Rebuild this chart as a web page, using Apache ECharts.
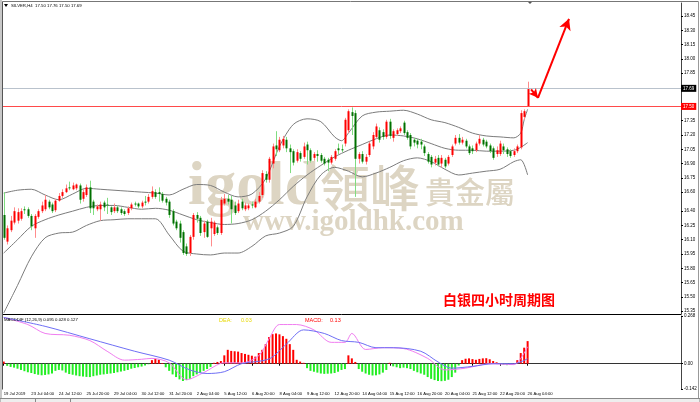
<!DOCTYPE html>
<html><head><meta charset="utf-8">
<script src="https://cdn.jsdelivr.net/npm/echarts@6/dist/echarts.min.js"></script>
<style>html,body{margin:0;padding:0;background:#fff}#c{width:700px;height:402px}</style>
</head><body><div id="c"></div>
<script>
// ---- DATA ----
// SILVER H4 candles: [open, high, low, close]
const ohlc = [
[16.36,16.60,16.10,16.12],[16.08,16.25,16.05,16.22],[16.20,16.35,16.18,16.30],[16.28,16.44,16.26,16.40],[16.30,16.43,16.27,16.39],
[16.32,16.43,16.30,16.40],[16.42,16.45,16.37,16.41],[16.42,16.44,16.33,16.35],[16.35,16.37,16.20,16.24],[16.22,16.37,16.12,16.35],
[16.34,16.42,16.32,16.40],[16.40,16.50,16.38,16.46],[16.42,16.57,16.40,16.52],[16.50,16.52,16.42,16.44],[16.47,16.49,16.38,16.40],
[16.41,16.53,16.39,16.51],[16.51,16.59,16.50,16.56],[16.56,16.63,16.54,16.60],[16.60,16.68,16.59,16.64],[16.65,16.71,16.62,16.64],
[16.63,16.70,16.62,16.67],[16.64,16.69,16.62,16.68],[16.67,16.69,16.48,16.52],[16.53,16.63,16.50,16.60],[16.57,16.68,16.55,16.65],
[16.65,16.72,16.38,16.43],[16.50,16.52,16.36,16.43],[16.42,16.47,16.40,16.45],[16.42,16.50,16.30,16.47],[16.49,16.51,16.40,16.44],
[16.47,16.54,16.37,16.46],[16.44,16.45,16.36,16.39],[16.40,16.48,16.38,16.44],[16.44,16.46,16.38,16.40],[16.42,16.44,16.36,16.38],
[16.40,16.42,16.35,16.37],[16.38,16.45,16.36,16.43],[16.43,16.49,16.41,16.47],[16.48,16.50,16.45,16.47],[16.48,16.49,16.43,16.45],
[16.45,16.51,16.43,16.49],[16.50,16.56,16.46,16.49],[16.50,16.58,16.48,16.55],[16.55,16.66,16.53,16.61],[16.60,16.63,16.53,16.55],
[16.60,16.65,16.50,16.58],[16.58,16.60,16.49,16.51],[16.53,16.55,16.46,16.49],[16.50,16.52,16.33,16.36],
[16.40,16.42,16.25,16.27],[16.29,16.31,16.20,16.22],[16.27,16.30,16.07,16.12],[16.18,16.20,15.94,15.96],[16.03,16.06,15.93,15.95],
[15.96,16.15,15.93,16.13],[16.13,16.38,16.10,16.36],[16.36,16.39,16.28,16.32],[16.33,16.35,16.14,16.17],[16.18,16.30,16.12,16.27],
[16.29,16.31,16.12,16.13],[16.22,16.33,16.03,16.29],[16.16,16.30,16.14,16.28],[16.23,16.25,16.15,16.17],[16.17,16.55,16.15,16.52],
[16.48,16.58,16.46,16.53],[16.53,16.57,16.47,16.50],[16.52,16.56,16.27,16.42],[16.46,16.50,16.36,16.38],[16.40,16.52,16.38,16.48],
[16.50,16.53,16.41,16.43],[16.42,16.49,16.40,16.46],[16.43,16.48,16.41,16.46],[16.47,16.50,16.43,16.46],[16.44,16.53,16.43,16.50],
[16.50,16.60,16.48,16.56],[16.57,16.83,16.54,16.80],[16.79,16.82,16.70,16.73],[16.73,16.97,16.70,16.95],[16.90,17.11,16.85,17.08],
[17.09,17.24,16.98,17.05],[17.04,17.18,17.02,17.15],[17.09,17.19,17.06,17.16],[17.15,17.18,17.02,17.06],[17.06,17.10,16.80,17.02],
[17.03,17.05,16.88,16.91],[16.93,17.05,16.91,17.02],[17.01,17.03,16.92,16.95],[16.97,17.12,16.95,17.08],[17.10,17.13,16.89,17.04],
[17.04,17.06,16.91,16.93],[16.96,17.02,16.93,17.00],[17.00,17.04,16.92,16.98],[16.99,17.01,16.91,16.93],[16.95,16.97,16.88,16.90],
[16.94,16.96,16.82,16.91],[16.91,16.99,16.89,16.97],[16.95,17.05,16.93,17.03],[17.06,17.11,17.00,17.04],[17.05,17.10,17.02,17.04],
[17.11,17.38,17.08,17.36],[17.25,17.47,17.22,17.45],[17.44,17.49,17.20,17.40],[17.43,17.46,16.55,16.95],[16.95,17.02,16.90,17.00],
[17.00,17.03,16.90,16.92],[16.92,17.00,16.89,16.97],[16.99,17.13,16.97,17.11],[17.08,17.23,17.05,17.20],[17.18,17.32,17.16,17.29],
[17.25,17.28,17.12,17.15],[17.23,17.26,17.15,17.18],[17.18,17.36,17.16,17.34],[17.34,17.37,17.16,17.19],[17.17,17.26,17.13,17.24],
[17.21,17.27,17.19,17.25],[17.24,17.29,17.22,17.27],[17.33,17.35,17.20,17.22],[17.23,17.25,17.15,17.17],[17.20,17.22,17.05,17.08],
[17.15,17.17,17.08,17.12],[17.14,17.16,17.06,17.10],[17.13,17.16,17.05,17.10],[17.08,17.10,16.98,17.01],[17.00,17.02,16.90,16.92],
[16.97,16.99,16.86,16.89],[16.91,16.98,16.88,16.95],[16.96,16.99,16.87,16.89],[16.90,16.99,16.86,16.96],[16.94,16.96,16.85,16.87],
[16.90,16.99,16.88,16.97],[16.99,17.10,16.97,17.08],[17.11,17.20,17.09,17.17],[17.17,17.21,17.10,17.12],[17.12,17.18,17.10,17.15],
[17.14,17.16,17.06,17.08],[17.08,17.10,16.99,17.01],[17.06,17.09,17.00,17.03],[17.04,17.13,17.02,17.11],[17.11,17.20,17.09,17.16],
[17.15,17.17,17.08,17.10],[17.13,17.15,17.06,17.08],[17.09,17.11,17.01,17.03],[17.06,17.08,16.94,16.96],[17.00,17.08,16.97,17.04],
[17.00,17.14,16.98,17.11],[17.08,17.11,17.00,17.04],[17.05,17.07,16.97,17.00],[17.03,17.05,16.96,16.98],[16.99,17.06,16.97,17.03],
[17.03,17.10,17.01,17.08],[17.07,17.46,17.05,17.43],[17.39,17.47,17.36,17.45],[17.50,17.76,17.50,17.69]
];
// Bollinger bands, read at sampled bars: [barIndex, price]
const bbUpper = [[0,16.59],[4,16.62],[8,16.63],[12,16.57],[16,16.52],[20,16.58],[24,16.64],[28,16.63],[32,16.62],[36,16.61],[40,16.60],[44,16.59],[48,16.57],[52,16.63],[56,16.68],[60,16.67],[64,16.60],[68,16.55],[72,16.58],[76,16.74],[80,17.08],[84,17.31],[88,17.37],[92,17.34],[96,17.18],[98,17.14],[100,17.22],[104,17.40],[108,17.44],[112,17.45],[116,17.46],[120,17.42],[124,17.36],[128,17.33],[132,17.28],[136,17.22],[140,17.19],[144,17.18],[148,17.17],[150,17.22],[151,17.36],[152,17.47]];
const bbMiddle = [[0,15.96],[4,16.10],[8,16.24],[12,16.31],[16,16.36],[20,16.40],[24,16.44],[28,16.46],[32,16.46],[36,16.44],[40,16.42],[44,16.43],[48,16.41],[52,16.36],[56,16.31],[60,16.28],[64,16.26],[68,16.27],[72,16.31],[76,16.40],[80,16.52],[84,16.66],[88,16.78],[92,16.88],[96,16.97],[100,17.04],[104,17.10],[108,17.16],[112,17.20],[116,17.19],[120,17.16],[124,17.11],[128,17.06],[132,17.04],[136,17.04],[140,17.03],[144,17.03],[148,17.04],[150,17.07],[152,17.12]];
const bbLower = [[0,15.33],[4,15.62],[8,15.92],[12,16.12],[16,16.17],[20,16.18],[24,16.25],[28,16.30],[32,16.31],[36,16.32],[40,16.32],[44,16.32],[48,16.15],[52,15.98],[56,15.95],[60,15.94],[64,15.96],[68,15.96],[72,16.03],[76,16.14],[80,16.17],[84,16.24],[88,16.55],[92,16.78],[96,16.86],[100,16.82],[104,16.76],[108,16.80],[112,16.86],[116,16.93],[120,16.96],[124,16.92],[128,16.84],[132,16.78],[136,16.80],[140,16.82],[144,16.84],[148,16.92],[150,16.94],[152,16.78]];
// MACD histogram, one value per bar
const macdHist = [
 0.012,-0.012,-0.018,-0.022,-0.028,-0.035,-0.042,-0.048,-0.052,-0.058,
-0.062,-0.065,-0.063,-0.060,-0.055,-0.040,-0.035,-0.038,-0.050,-0.058,
-0.062,-0.066,-0.070,-0.072,-0.074,-0.075,-0.070,-0.066,-0.062,-0.060,
-0.057,-0.055,-0.052,-0.048,-0.044,-0.040,-0.035,-0.028,-0.024,-0.020,
-0.016,-0.010,-0.003, 0.020, 0.027, 0.022, 0.004,-0.020,-0.040,-0.060,
-0.075,-0.088,-0.097,-0.092,-0.085,-0.070,-0.060,-0.050,-0.040,-0.030,
-0.018, 0.005, 0.010, 0.015, 0.047, 0.078, 0.072, 0.070, 0.068, 0.060,
 0.055, 0.050, 0.045, 0.040, 0.060, 0.078, 0.110, 0.150, 0.166, 0.170,
 0.165, 0.155, 0.140, 0.110, 0.078, 0.022, 0.012, 0.005,-0.025,-0.040,
-0.045,-0.050,-0.055,-0.057,-0.056,-0.055,-0.052,-0.045,-0.035,-0.030,
 0.047, 0.030, 0.010,-0.030,-0.045,-0.055,-0.062,-0.066,-0.065,-0.060,
-0.050,-0.035, 0.005,-0.015,-0.020,-0.025,-0.022,-0.025,-0.030,-0.040,
-0.048,-0.055,-0.062,-0.075,-0.085,-0.092,-0.097,-0.098,-0.096,-0.090,
-0.075,-0.050,-0.010, 0.020, 0.028, 0.030, 0.026, 0.022, 0.027, 0.030,
 0.031, 0.025, 0.015, 0.008, 0.004,-0.005,-0.008,-0.004, 0.003, 0.020,
 0.060, 0.090, 0.127
];
// MACD lines read at sampled bars: [barIndex, value]
const difLine = [[0,0.26],[7,0.22],[12,0.17],[19,0.16],[25,0.13],[30,0.07],[35,0.02],[40,0.025],[43,0.03],[48,0.005],[53,-0.09],[58,-0.05],[64,0.005],[69,0.005],[74,0.045],[77,0.14],[80,0.22],[85,0.22],[90,0.19],[95,0.12],[99,0.12],[101,0.17],[105,0.08],[110,0.09],[116,0.085],[123,0.03],[128,-0.035],[134,-0.025],[141,0.0],[148,-0.005],[150,0.03],[152,0.095]];
const deaLine = [[0,0.26],[12,0.21],[25,0.14],[38,0.07],[48,0.02],[54,-0.035],[59,-0.055],[64,-0.045],[69,0.0],[77,0.027],[82,0.11],[87,0.19],[93,0.17],[98,0.13],[103,0.12],[108,0.09],[113,0.09],[121,0.07],[126,0.01],[130,-0.025],[136,-0.015],[142,0.0],[148,0.0],[152,0.028]];
// tick labels
const priceTicks = [18.45,18.30,18.15,18.00,17.85,17.35,17.20,17.05,16.90,16.75,16.60,16.40,16.25,16.10,15.95,15.80,15.65,15.50,15.35];
const macdTicks = [0.268, 0, -0.142];
const timeLabels = ['19 Jul 2019','23 Jul 04:00','24 Jul 12:00','25 Jul 20:00','29 Jul 04:00','30 Jul 12:00','31 Jul 20:00','2 Aug 04:00','5 Aug 12:00','6 Aug 20:00','8 Aug 04:00','9 Aug 12:00','12 Aug 20:00','14 Aug 04:00','15 Aug 12:00','16 Aug 20:00','20 Aug 04:00','21 Aug 12:00','22 Aug 20:00','26 Aug 04:00'];
const resistance = 17.50;
const lastPrice = 17.69;
const arrowPath = [[153,17.68],[155,17.59],[164,18.42]];
const SLOTS = 197;

// ---- CHART ----
const categories = Array.from({length: SLOTS}, (_, i) => String(i));
const candleData = ohlc.map((r, i) => [i, r[0], r[1], r[2], r[3]]);
const F = 'Liberation Sans';

function renderCandle(params, api) {
  const i = api.value(0), o = api.value(1), h = api.value(2), l = api.value(3), c = api.value(4);
  const pH = api.coord([i, h]), pL = api.coord([i, l]), pO = api.coord([i, o]), pC = api.coord([i, c]);
  const X = Math.round(pH[0]);
  const up = c > o;
  const wick = up ? '#ff8c8c' : '#80dd80';
  const body = up ? '#ff0000' : '#007000';
  const top = Math.min(pO[1], pC[1]), bot = Math.max(pO[1], pC[1]);
  return {type: 'group', children: [
    {type: 'line', shape: {x1: X + 0.5, y1: pH[1], x2: X + 0.5, y2: pL[1]}, style: {stroke: wick, lineWidth: 1}},
    {type: 'rect', shape: {x: X - 0.5, y: top, width: 2, height: Math.max(1, bot - top)}, style: {fill: c === o ? wick : body}}
  ]};
}

const chart = echarts.init(document.getElementById('c'), null, {renderer: 'canvas'});
const txt = (t, x, y, size, color) => ({type: 'text', z: 10, style: {text: t, x: x, y: y, fontSize: size, fontFamily: F, fill: color, verticalAlign: 'middle'}});
const wm = '#ddd5c3';
chart.setOption({
  animation: false,
  backgroundColor: '#fff',
  grid: [
    {left: 2, right: 19, top: 3, height: 311, outerBoundsMode: 'none'},
    {left: 2, right: 19, top: 316, height: 73, outerBoundsMode: 'none'}
  ],
  xAxis: [
    {type: 'category', gridIndex: 0, data: categories, boundaryGap: true,
     axisLine: {show: true, lineStyle: {color: '#000', width: 1}}, axisTick: {show: false}, axisLabel: {show: false}, splitLine: {show: false}},
    {type: 'category', gridIndex: 1, data: categories, boundaryGap: true,
     axisLine: {show: true, lineStyle: {color: '#333', width: 1}},
     axisTick: {show: true, alignWithLabel: true, length: 2, interval: (idx) => idx % 8 === 0 && idx / 8 < timeLabels.length, lineStyle: {color: '#000'}},
     axisLabel: {show: true, interval: (idx) => idx % 8 === 0 && idx / 8 < timeLabels.length, formatter: (v) => timeLabels[Number(v) / 8] || '',
       fontSize: 4.2, fontFamily: F, color: '#000', align: 'left', margin: 3}, splitLine: {show: false}}
  ],
  yAxis: [
    {type: 'value', gridIndex: 0, position: 'right', min: 15.3197, max: 18.5866,
     axisLine: {show: true, lineStyle: {color: '#444'}},
     axisTick: {show: true, length: 2, customValues: priceTicks, lineStyle: {color: '#000'}},
     axisLabel: {show: true, customValues: priceTicks, formatter: (v) => v.toFixed(2), fontSize: 4.5, fontFamily: F, color: '#000', margin: 3},
     splitLine: {show: false}},
    {type: 'value', gridIndex: 1, position: 'right', min: -0.142, max: 0.268,
     axisLine: {show: true, lineStyle: {color: '#444'}},
     axisTick: {show: true, length: 2, customValues: macdTicks, lineStyle: {color: '#000'}},
     axisLabel: {show: true, customValues: macdTicks, formatter: (v) => v === 0 ? '0.00' : String(v), fontSize: 4.5, fontFamily: F, color: '#000', margin: 3},
     splitLine: {show: false}}
  ],
  series: [
    {type: 'line', name: 'BB upper', xAxisIndex: 0, yAxisIndex: 0, data: bbUpper, showSymbol: false, smooth: 0.3, lineStyle: {color: '#7c7c7c', width: 1}, z: 3},
    {type: 'line', name: 'BB middle', xAxisIndex: 0, yAxisIndex: 0, data: bbMiddle, showSymbol: false, smooth: 0.3, lineStyle: {color: '#7c7c7c', width: 1}, z: 3,
     markLine: {silent: true, symbol: 'none', animation: false,
       data: [
         {yAxis: lastPrice, lineStyle: {color: '#b9c2cc', width: 1, type: 'solid'},
          label: {show: true, position: 'end', distance: 0, formatter: lastPrice.toFixed(2), color: '#fff', backgroundColor: '#000', fontSize: 4.5, fontFamily: F, padding: [1, 2]}},
         {yAxis: resistance, lineStyle: {color: '#ff4a4a', width: 1, type: 'solid'},
          label: {show: true, position: 'end', distance: 0, formatter: resistance.toFixed(2), color: '#fff', backgroundColor: '#ff0000', fontSize: 4.5, fontFamily: F, padding: [1, 2]}}
       ]}},
    {type: 'line', name: 'BB lower', xAxisIndex: 0, yAxisIndex: 0, data: bbLower, showSymbol: false, smooth: 0.3, lineStyle: {color: '#7c7c7c', width: 1}, z: 3},
    {type: 'custom', name: 'SILVER', xAxisIndex: 0, yAxisIndex: 0, data: candleData, renderItem: renderCandle, encode: {x: 0, y: [1, 2, 3, 4]}, clip: true, z: 4},
    {type: 'line', name: 'arrow', xAxisIndex: 0, yAxisIndex: 0, data: [], z: 6,
     markLine: {silent: true, animation: false, symbol: ['none', 'arrow'], symbolSize: [7, 9],
       lineStyle: {color: '#ff0000', width: 2, type: 'solid'}, label: {show: false},
       data: [
         [{coord: arrowPath[0]}, {coord: arrowPath[1]}],
         [{coord: arrowPath[1]}, {coord: arrowPath[2], symbolSize: [9, 11]}]
       ]}},
    {type: 'bar', name: 'MACD', xAxisIndex: 1, yAxisIndex: 1, data: macdHist, barWidth: 2,
     itemStyle: {color: (p) => p.value >= 0 ? '#ff0000' : '#22ee22'}, z: 2},
    {type: 'line', name: 'DIF', xAxisIndex: 1, yAxisIndex: 1, data: difLine, showSymbol: false, smooth: 0.3, lineStyle: {color: '#f07df0', width: 1}, z: 3},
    {type: 'line', name: 'DEA', xAxisIndex: 1, yAxisIndex: 1, data: deaLine, showSymbol: false, smooth: 0.3, lineStyle: {color: '#6f6ff5', width: 1}, z: 3}
  ],
  graphic: [
    // watermark
    {type: 'text', z: -10, style: {text: 'igold', x: 188, y: 157, font: 'bold 62px "Liberation Serif"', fill: wm, verticalAlign: 'top'}},
    {type: 'text', z: -10, style: {text: '領峰', x: 320, y: 163, font: '500 50px "Noto Sans CJK TC"', fill: wm, verticalAlign: 'top'}},
    {type: 'text', z: -10, style: {text: '貴金屬', x: 425, y: 177, font: '500 30px "Noto Sans CJK TC"', fill: wm, verticalAlign: 'top'}},
    {type: 'text', z: -10, style: {text: 'www.igoldhk.com', x: 243, y: 237, font: 'bold 29px "Liberation Serif"', fill: wm, verticalAlign: 'bottom'}},
    // title
    {type: 'text', z: 10, style: {text: '白银四小时周期图', x: 443, y: 300, font: 'bold 14px "Noto Sans CJK SC"', fill: '#ff0000', verticalAlign: 'middle'}},
    // header texts
    {type: 'polygon', z: 10, shape: {points: [[4, 4], [8, 4], [6, 7]]}, style: {fill: '#000'}},
    txt('SILVER,H4  17.50 17.76 17.50 17.69', 11, 5.5, 4.3, '#000'),
    txt('MACDDIF (12,26,9) 0.095 0.028 0.127', 4, 320, 4.3, '#000'),
    txt('DEA:', 219, 320, 5.5, '#e8d800'),
    txt('0.03', 241, 320, 5.5, '#e8d800'),
    txt('MACD:', 305, 320, 5.5, '#ff0000'),
    txt('0.13', 330, 320, 5.5, '#ff0000'),
    // frame
    {type: 'polygon', z: 10, shape: {points: [[527, 1], [533, 1], [530, 4]]}, style: {fill: '#555'}},
    {type: 'rect', z: 10, shape: {x: 0, y: 0, width: 2, height: 402}, style: {fill: '#c8c8c8'}},
    {type: 'line', z: 10, shape: {x1: 2.5, y1: 1.5, x2: 2.5, y2: 389.5}, style: {stroke: '#555', lineWidth: 1}},
    {type: 'line', z: 10, shape: {x1: 2.5, y1: 1.5, x2: 698.5, y2: 1.5}, style: {stroke: '#777', lineWidth: 1}},
    {type: 'line', z: 10, shape: {x1: 698.5, y1: 1.5, x2: 698.5, y2: 398.5}, style: {stroke: '#999', lineWidth: 1}},
    {type: 'rect', z: 10, shape: {x: 0, y: 398.5, width: 700, height: 4}, style: {fill: '#eeeeee', stroke: '#888', lineWidth: 1}},
    {type: 'line', z: 10, shape: {x1: 35.5, y1: 398.5, x2: 35.5, y2: 402}, style: {stroke: '#888', lineWidth: 1}},
    {type: 'line', z: 10, shape: {x1: 70.5, y1: 398.5, x2: 70.5, y2: 402}, style: {stroke: '#888', lineWidth: 1}}
  ]
});
</script>
</body></html>
